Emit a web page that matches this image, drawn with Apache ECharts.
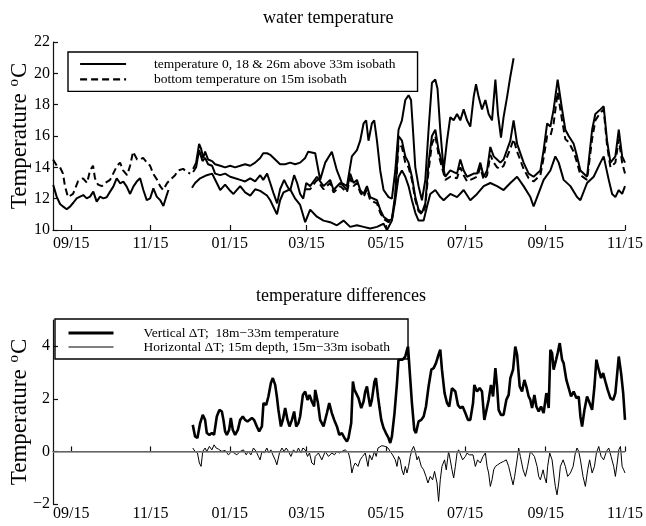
<!DOCTYPE html>
<html><head><meta charset="utf-8">
<script src="https://cdn.jsdelivr.net/npm/echarts@6/dist/echarts.min.js"></script>
<style>html,body{margin:0;padding:0;background:#fff}#c{width:646px;height:526px}</style>
</head><body><div id="c"></div>
<script>
// x values are days since 1 Sep (first year); 440 = 15 Nov of the following year
const tickDays = [14, 75, 136, 195, 256, 317, 379, 440];
const tickLabels = ['09/15','11/15','01/15','03/15','05/15','07/15','09/15','11/15'];
const tempTicks = [10, 12, 14, 16, 18, 20, 22];
const diffTicks = [-2, 0, 2, 4];

// warmest sensor (26m above bottom, 33m isobath)
const temp26 = [[107.8,13.9],[110.1,14.3],[112.4,15.5],[113.9,15.2],[115.5,14.6],[117.0,15.0],[119.3,14.5],[122.4,14.4],[124.7,14.2],[128.6,14.1],[132.4,14.0],[136.3,14.1],[140.1,14.0],[144.0,14.1],[147.8,14.2],[151.7,14.1],[155.5,14.3],[159.4,14.6],[161.7,14.9],[164.7,14.9],[167.1,14.8],[170.9,14.5],[174.7,14.2],[178.6,14.2],[182.4,14.3],[186.3,14.2],[190.1,14.3],[194.0,14.6],[196.3,15.0],[197.8,15.0],[201.7,14.9],[205.5,13.2],[209.4,14.3],[214.5,15.0],[218.4,13.8],[222.2,13.0],[226.1,12.8],[229.9,14.7],[233.8,15.1],[236.3,15.7],[238.9,16.8],[240.9,17.0],[242.7,15.7],[245.3,16.8],[247.1,17.0],[249.2,15.7],[251.7,13.8],[254.3,12.55],[258.1,12.1],[260.7,12.0],[263.3,13.8],[265.8,16.4],[268.4,17.0],[271.0,18.3],[273.5,18.6],[275.4,18.3],[276.9,16.4],[278.7,14.0],[281.2,12.8],[283.8,11.9],[286.4,13.2],[288.9,16.4],[291.5,19.4],[294.1,19.6],[295.8,19.0],[297.9,16.4],[300.5,13.8],[303.1,15.7],[305.6,17.2],[308.2,17.0],[310.8,17.4],[313.3,17.0],[315.9,17.7],[318.5,17.0],[321.0,16.6],[323.6,18.5],[325.4,19.3],[327.4,18.5],[330.0,17.7],[332.6,18.3],[335.1,17.4],[337.7,17.0],[340.3,19.6],[342.3,17.4],[344.6,15.9],[346.6,17.2],[349.3,18.5],[351.8,19.8],[354.3,20.96]];

// middle sensor (18m above bottom)
const temp18 = [[107.8,13.7],[110.1,14.0],[112.4,15.1],[115.0,14.4],[117.0,14.6],[119.3,14.2],[122.4,14.1],[124.7,13.6],[128.6,13.5],[132.4,13.6],[136.3,13.4],[140.1,13.3],[144.0,13.2],[147.8,13.1],[151.7,13.3],[155.5,13.1],[159.4,13.5],[161.7,13.2],[164.7,13.6],[167.1,13.0],[169.4,12.4],[172.4,11.7],[174.7,12.6],[177.8,13.2],[180.1,12.8],[182.4,12.5],[185.5,13.5],[187.8,13.0],[190.1,12.3],[192.5,12.0],[194.8,13.0],[197.8,12.8],[203.0,13.4],[208.1,12.8],[213.2,13.2],[215.8,12.55],[220.9,13.0],[223.5,12.8],[226.1,12.55],[228.6,13.6],[231.2,13.0],[233.8,13.2],[236.3,12.55],[238.9,12.3],[241.5,12.8],[244.0,12.1],[249.2,11.9],[251.7,11.3],[254.3,10.85],[258.1,10.6],[260.7,10.7],[263.3,12.3],[265.8,16.0],[268.4,15.7],[271.0,14.7],[273.5,14.3],[276.1,13.4],[278.7,12.1],[281.2,11.3],[283.8,11.1],[286.4,11.7],[288.9,14.3],[291.5,16.0],[294.1,16.4],[296.6,15.1],[299.2,14.3],[301.8,13.4],[305.6,13.8],[310.8,13.6],[313.3,14.5],[315.9,13.8],[318.5,13.4],[323.6,13.6],[326.2,13.6],[328.7,14.3],[331.3,13.4],[333.9,13.8],[336.4,15.3],[339.0,14.7],[341.6,14.5],[344.1,14.3],[346.6,14.5],[351.8,15.7],[354.3,17.0],[357.0,15.5],[362.0,14.3],[365.9,13.6],[369.7,13.4],[374.9,13.8],[377.4,15.1],[380.1,16.8],[382.6,16.6],[385.1,17.7],[388.2,19.6],[391.6,17.7],[394.1,16.4],[396.7,16.0],[400.5,15.5],[403.1,14.7],[405.7,13.8],[410.8,13.4],[414.7,16.4],[417.2,17.4],[421.1,17.7],[423.6,17.9],[426.2,15.7],[428.8,14.3],[432.6,14.7],[435.2,16.4],[437.8,14.7],[440,14.3]];

// coolest sensor (0m above bottom); first stretch Sep-Nov, then Dec-Nov
const temp0 = [[0.2,12.87],[2.8,12.13],[5.4,11.66],[7.9,11.49],[10.5,11.32],[13.1,11.49],[15.6,11.74],[18.2,12.02],[20.8,12.13],[23.3,12.23],[25.9,12.02],[28.5,12.13],[31.0,12.45],[33.6,11.81],[36.2,12.13],[38.7,12.02],[41.3,12.09],[43.9,12.45],[46.4,12.77],[49.0,13.3],[51.6,12.98],[54.1,13.09],[56.7,12.77],[59.3,12.3],[61.8,12.77],[64.4,13.09],[67.0,13.3],[69.5,12.55],[72.1,11.91],[74.7,12.02],[77.2,12.66],[79.8,12.13],[82.4,11.91],[84.9,11.53],[87.5,12.23],[88.8,12.55],[97,null],
  [106.9,12.7],[109.3,13.0],[113.2,13.3],[118.3,13.5],[122.4,13.6],[126.0,13.0],[128.6,12.55],[132.4,12.9],[136.3,12.5],[138.8,12.3],[144.0,12.8],[147.8,12.4],[151.7,12.2],[155.5,12.6],[159.4,12.5],[164.6,12.2],[167.1,11.9],[172.3,11.0],[174.7,11.9],[177.3,12.4],[182.4,12.6],[186.3,12.0],[190.1,11.6],[194.0,10.5],[197.8,11.3],[203.0,10.85],[208.1,10.6],[213.2,10.5],[218.4,10.3],[223.5,10.6],[228.6,10.2],[233.8,10.3],[238.9,10.2],[244.0,10.1],[249.2,10.2],[254.3,10.4],[256.9,10.0],[260.7,10.6],[263.3,11.9],[265.8,13.4],[268.4,13.8],[271.0,13.4],[273.5,12.8],[276.1,11.9],[278.7,11.1],[281.2,10.6],[285.1,10.6],[287.7,11.5],[290.2,12.3],[294.1,12.55],[297.9,12.1],[300.5,11.9],[305.6,12.3],[310.8,12.1],[315.9,12.55],[321.0,11.9],[326.2,12.3],[331.3,12.8],[336.4,13.0],[341.6,12.8],[346.6,12.55],[351.8,13.0],[357.0,13.4],[362.0,12.8],[367.2,12.1],[369.7,11.5],[372.4,12.1],[377.4,13.2],[382.6,13.8],[386.4,14.7],[389.0,14.3],[392.8,13.2],[398.0,12.8],[403.1,12.1],[405.7,11.9],[410.8,13.0],[415.9,13.4],[421.1,14.3],[423.6,14.7],[427.5,13.2],[430.1,12.3],[432.6,12.1],[435.2,12.55],[437.8,12.3],[440,12.8]];

// bottom temperature on 15m isobath (dashed)
const temp15 = [[0,14.5],[3,14.1],[5.4,14.0],[7.7,13.6],[9.2,12.8],[11.5,12.1],[15.4,12.3],[19.2,13.1],[23.1,13.3],[26.2,13.0],[28.5,13.8],[30.8,14.1],[32.3,13.3],[34.6,12.9],[37.7,12.8],[40,13.0],[43.9,13.2],[49.3,14.1],[51.6,14.3],[53.9,13.8],[57,13.5],[59.3,14.1],[61.6,15.0],[64.7,14.5],[67,14.5],[69.3,14.6],[72.4,14.3],[74.7,14.1],[77,13.6],[80.1,13.2],[82.4,12.8],[84.7,12.55],[87.8,13.0],[90.1,13.2],[93.9,13.5],[96.2,13.8],[100.1,13.9],[103.2,13.7],[105.5,13.6],[150,null],
  [194.0,12.6],[197.8,12.6],[203.0,13.2],[208.1,12.6],[213.2,13.0],[215.8,12.4],[220.9,12.8],[223.5,12.6],[226.1,12.4],[228.6,13.3],[231.2,12.8],[233.8,13.0],[236.3,12.4],[238.9,12.1],[241.5,12.6],[244.0,11.9],[249.2,11.7],[251.7,11.1],[254.3,10.7],[258.1,10.5],[260.7,10.7],[263.3,12.0],[265.8,15.5],[268.4,15.3],[271.0,14.3],[273.5,14.0],[276.1,13.2],[278.7,11.9],[281.2,11.2],[283.8,11.0],[286.4,11.5],[288.9,13.8],[291.5,15.5],[294.1,16.0],[296.6,14.8],[299.2,14.0],[301.8,13.2],[305.6,13.4],[310.8,13.3],[313.3,14.0],[315.9,13.5],[318.5,13.1],[323.6,13.3],[326.2,13.4],[328.7,14.0],[331.3,13.2],[333.9,13.5],[336.4,14.8],[339.0,14.3],[341.6,14.0],[344.1,13.9],[346.6,14.1],[351.8,15.2],[354.3,15.8],[357.0,15.0],[362.0,13.9],[365.9,13.3],[369.7,13.1],[374.9,13.5],[377.4,14.6],[380.1,16.0],[382.6,16.0],[385.1,16.8],[388.2,18.8],[391.6,17.0],[394.1,15.8],[396.7,15.6],[400.5,15.0],[403.1,14.3],[405.7,13.5],[410.8,13.2],[414.7,15.8],[417.2,17.0],[421.1,17.5],[423.6,17.7],[426.2,15.4],[428.8,14.0],[432.6,14.3],[435.2,15.8],[437.8,14.3],[440,13.6]];

// vertical dT: 18m - 33m temperature
const vertDT = [[107.5,1.01],[109.3,0.57],[111.1,0.51],[113.2,1.08],[115.2,1.39],[117.0,1.2],[118.3,0.7],[120.3,0.63],[122.2,0.7],[123.9,0.63],[126.0,1.33],[128.0,1.58],[129.9,1.52],[131.1,1.2],[132.4,0.76],[133.7,0.63],[135.5,0.82],[136.8,1.27],[138.3,0.82],[140.1,0.63],[142.2,0.82],[144.0,1.2],[146.0,1.33],[147.8,1.2],[149.6,1.14],[151.1,1.08],[153.0,1.27],[154.7,1.2],[156.8,0.95],[158.6,0.76],[160.7,0.95],[161.9,1.84],[164.0,1.77],[165.7,2.09],[167.6,2.6],[169.1,2.79],[170.9,2.53],[172.2,2.09],[173.4,1.58],[175.3,0.95],[176.8,1.2],[178.6,1.65],[180.4,1.2],[181.9,0.95],[183.8,1.2],[185.5,1.52],[187.1,0.95],[188.8,1.08],[190.1,1.33],[192.2,2.15],[194.0,2.28],[195.8,1.96],[197.3,2.15],[199.1,1.9],[200.9,1.71],
  [201.7,2.34],[203.8,1.84],[205.5,1.2],[208.1,0.95],[210.7,1.46],[212.5,1.84],[214.5,1.46],[216.3,1.2],[218.4,0.95],[220.2,0.63],[222.2,0.7],[224.2,0.51],[226.1,0.38],[227.3,0.51],[229.4,1.08],[230.7,2.66],[231.9,2.34],[233.8,2.15],[235.0,2.03],[237.1,1.65],[238.9,1.9],[240.2,2.28],[241.5,2.47],[242.7,2.09],[244.0,1.71],[245.3,1.96],[247.3,2.66],[248.4,2.79],[250.0,2.09],[251.2,1.65],[252.5,1.2],[254.3,0.89],[256.1,0.7],[258.1,0.51],[259.4,0.32],[260.7,0.57],[262.7,1.46],[264.6,2.6],[265.8,3.49],[267.1,3.55],[268.9,3.49],[271.0,3.61],[272.3,3.87],[273.1,3.99],[274.3,3.11],[276.1,1.84],[277.9,0.82],[279.2,0.7],[281.2,1.14],[283.3,1.2],[285.1,1.33],[286.9,1.71],[288.9,2.47],[291.0,3.11],[292.8,3.17],[294.6,3.36],[296.1,3.61],[297.9,3.87],[299.2,3.11],[301.2,2.22],[303.1,1.84],[304.8,1.71],[306.9,2.41],[308.2,2.47],[309.5,2.28],[311.5,1.77],[313.3,1.65],[315.1,1.71],[317.2,1.46],[319.2,1.2],
  [321.0,1.2],[323.1,1.84],[324.1,2.53],[326.2,2.28],[328.2,2.41],[330.0,2.28],[331.8,1.2],[333.3,1.14],[335.1,1.96],[336.9,2.53],[338.5,2.09],[340.3,3.17],[341.6,2.47],[342.8,1.58],[344.6,1.39],[346.6,1.39],[348.7,1.96],[350.5,2.15],[351.8,2.79],[353.9,3.11],[355.6,3.99],[357.0,3.68],[359.0,2.47],[360.8,2.28],[362.6,2.72],[364.1,2.47],[365.9,2.09],[367.2,1.96],[368.5,1.65],[370.3,2.15],[371.8,1.71],[373.6,1.52],[375.4,1.71],[377.4,1.46],[379.5,2.22],[381.3,1.65],[382.6,3.87],[383.9,3.74],[385.1,3.11],[387.0,3.49],[388.2,3.74],[389.8,4.12],[391.6,3.49],[392.8,3.36],[394.9,2.72],[396.7,2.41],[398.5,2.09],[400.5,2.28],[402.6,2.03],[404.4,2.09],[405.7,1.33],[407.0,0.95],[408.8,1.58],[410.8,2.09],[412.8,1.84],[414.7,1.58],[416.5,2.47],[418.0,3.49],[419.8,3.11],[421.6,2.79],[423.2,2.98],[424.9,2.66],[426.7,2.34],[428.8,2.03],[430.9,1.96],[432.6,2.22],[434.0,2.28],[435.2,3.61],[437.0,2.98],[438.6,2.22],[440,1.2]];

// horizontal dT: 15m depth, 15m - 33m isobath
const horizDT = [[107.5,0.13],[109.3,0],[111.1,-0.06],[112.6,-0.44],[113.9,-0.57],[115.2,0],[117.0,0.13],[118.3,0],[120.3,0.19],[122.2,0.06],[123.9,0.25],[125.5,0.13],[127.2,0.09],[129.9,0],[132.4,0.04],[134.9,-0.13],[137.6,0],[139.3,-0.06],[141.4,-0.13],[144.0,0],[146.5,0.06],[148.6,-0.13],[150.3,0],[152.2,-0.13],[154.2,0.13],[156.3,0],[158.0,-0.19],[159.3,-0.32],[160.7,0],[162.4,-0.06],[164.5,0.13],[166.0,-0.06],[167.6,0.06],[169.1,-0.13],[170.9,-0.32],[172.2,-0.51],[174.2,-0.06],[176.1,0.13],[177.8,0],[179.4,0.13],[181.1,0],[183.0,-0.19],[185.0,0.06],[187.1,-0.06],[188.8,0.13],[190.7,-0.06],[192.2,0.13],[194.0,0.06],[195.8,-0.19],[197.3,-0.06],[199.1,-0.44],[200.9,-0.51],
  [201.7,-0.19],[204.2,-0.06],[206.8,-0.32],[209.4,0],[211.9,-0.19],[214.5,-0.06],[216.5,-0.13],[218.4,0],[220.2,-0.06],[222.2,0],[224.8,0.06],[227.3,-0.06],[228.6,-0.32],[229.9,-0.82],[231.2,-0.57],[232.5,-0.44],[234.6,-0.57],[236.3,-0.32],[238.1,-0.19],[240.2,-0.06],[242.3,-0.57],[243.5,-0.13],[245.3,-0.32],[247.3,0],[248.6,-0.19],[250.0,0.13],[251.0,0.19],[253.0,0.22],[255.6,0.19],[257.7,0.13],[259.4,0],[261.2,-0.13],[263.3,-0.32],[264.6,-0.57],[265.8,-0.19],[267.1,-0.32],[268.4,-0.7],[269.7,-0.89],[271.0,-0.57],[272.3,-0.82],[273.5,-0.57],[274.8,-0.19],[276.1,0.06],[277.4,0.19],[278.7,0],[280.0,-0.32],[281.2,-0.19],[283.3,-0.57],[285.1,-0.7],[286.9,-0.95],[288.4,-1.2],[290.2,-0.95],[292.0,-1.08],[293.5,-0.76],[295.4,-1.2],[296.6,-1.9],[297.9,-1.08],[299.2,-0.57],[301.2,-0.32],[302.5,-0.7],[304.3,0],[305.6,-0.32],[306.9,-0.7],[308.2,-1.01],[309.5,-0.57],[310.8,-0.06],[312.0,0.06],[313.3,0.13],[315.1,-0.32],[317.2,-0.19],[318.5,-0.06],[320.2,-0.13],
  [321.0,-0.06],[323.1,-0.13],[324.9,-0.57],[326.6,-0.32],[328.7,-0.44],[330.8,-0.19],[332.6,-0.06],[333.9,-0.57],[335.1,-0.82],[336.4,-1.33],[337.7,-1.08],[339.0,-0.7],[340.3,-0.57],[342.0,-0.51],[344.1,-0.44],[346.6,-0.38],[348.7,-0.32],[350.5,-0.57],[352.3,-0.95],[353.9,-1.27],[355.1,-0.95],[357.0,-0.32],[358.2,0.13],[359.5,-0.19],[361.6,-0.7],[363.4,-0.95],[365.1,-0.57],[367.2,0],[368.5,0.06],[370.3,-0.19],[372.4,-0.57],[373.6,-0.95],[374.9,-1.08],[377.0,-0.7],[378.0,-0.95],[379.5,-1.2],[380.5,-0.57],[382.1,-0.06],[383.9,-0.32],[385.1,-0.82],[386.4,-1.33],[387.7,-1.65],[389.0,-1.2],[390.3,-0.57],[392.4,-0.32],[394.1,-0.57],[395.9,-0.95],[398.0,-0.82],[400.1,-0.57],[401.8,-0.06],[403.1,0.13],[404.4,0],[405.7,-0.32],[407.7,-0.95],[409.5,-1.33],[411.3,-0.7],[412.8,-0.32],[414.7,-0.82],[416.5,-0.57],[418.0,-0.06],[419.8,0.19],[421.6,-0.19],[423.6,-0.32],[425.7,0],[427.5,0.13],[429.3,-0.19],[431.3,-0.57],[432.6,-0.95],[434.0,-0.44],[435.2,0.06],[436.5,0.19],[437.8,-0.57],[439.0,-0.7],[440,-0.82]];

const names = {
  solid: 'temperature 0, 18 & 26m above 33m isobath',
  dashed: 'bottom temperature on 15m isobath',
  vert: 'Vertical \u0394T;  18m\u221233m temperature',
  horiz: 'Horizontal \u0394T; 15m depth, 15m\u221233m isobath'
};

const FONT = '"Liberation Serif", "Times New Roman", serif';
const chart = echarts.init(document.getElementById('c'), null, {renderer: 'canvas'});

function xAxis(gridIndex, margin) {
  return {
    type: 'value', gridIndex, min: 0, max: 440,
    axisLine: {show: true, lineStyle: {color: '#111', width: 1.2}},
    axisTick: {show: true, inside: true, length: 5, customValues: tickDays, lineStyle: {color: '#111', width: 1.2}},
    axisLabel: {customValues: tickDays, margin, color: '#000', fontFamily: FONT, fontSize: 16,
      showMinLabel: true, showMaxLabel: true, hideOverlap: false,
      formatter: v => { const i = tickDays.indexOf(Math.round(v)); return i >= 0 ? tickLabels[i] : ''; }},
    splitLine: {show: false}
  };
}
function yAxis(gridIndex, min, max, ticks) {
  return {
    type: 'value', gridIndex, min, max,
    name: '{t|Temperature }{s|o}{t|C}', nameLocation: 'middle', nameRotate: 90, nameGap: 20,
    nameMoveOverlap: false,
    nameTextStyle: {rich: {
      t: {fontFamily: FONT, fontSize: 23, color: '#000'},
      s: {fontFamily: FONT, fontSize: 15, color: '#000', padding: [0, 1, 11, 1]}
    }},
    axisLine: {show: true, lineStyle: {color: '#111', width: 1.2}},
    axisTick: {show: true, inside: true, length: 5, customValues: ticks, lineStyle: {color: '#111', width: 1.2}},
    axisLabel: {customValues: ticks, margin: 3, color: '#000', fontFamily: FONT, fontSize: 16,
      showMinLabel: true, showMaxLabel: true, hideOverlap: false,
      formatter: v => v < 0 ? '\u2212' + Math.abs(v) : String(v)},
    splitLine: {show: false}
  };
}
const solid = {color: '#000', width: 2};
const legendText = {fontFamily: FONT, fontSize: 13.5, lineHeight: 12, color: '#000'};
const option = {
  animation: false,
  backgroundColor: '#fff',
  color: ['#000'],
  title: [
    {text: 'water temperature', left: 263, top: 9, padding: 0,
      textStyle: {fontFamily: FONT, fontSize: 18, fontWeight: 'normal', color: '#000'}},
    {text: 'temperature differences', left: 256, top: 287, padding: 0,
      textStyle: {fontFamily: FONT, fontSize: 18, fontWeight: 'normal', color: '#000'}}
  ],
  grid: [
    {left: 53, right: 21, top: 42, bottom: 296, containLabel: false, outerBoundsMode: 'none'},
    {left: 53, right: 21, top: 320, bottom: 22, containLabel: false, outerBoundsMode: 'none'}
  ],
  legend: [
    {data: [
        {name: names.solid, lineStyle: {color: '#000', width: 2.2, type: 'solid'}},
        {name: names.dashed, lineStyle: {color: '#000', width: 2.2, type: [7, 4]}}
      ],
      orient: 'vertical', left: 68, top: 52,
      itemWidth: 46, itemHeight: 12, itemGap: 1.4, padding: [5, 22, 5, 11],
      itemStyle: {opacity: 0, borderWidth: 0},
      borderColor: '#000', borderWidth: 1.4, selectedMode: false,
      textStyle: Object.assign({padding: [0, 0, 0, 23]}, legendText)},
    {data: [
        {name: names.vert, lineStyle: {color: '#000', width: 3, type: 'solid'}},
        {name: names.horiz, lineStyle: {color: '#000', width: 1, type: 'solid'}}
      ],
      orient: 'vertical', left: 55, top: 319,
      itemWidth: 45, itemHeight: 12, itemGap: 0, padding: [7, 18, 5, 12],
      itemStyle: {opacity: 0, borderWidth: 0},
      borderColor: '#000', borderWidth: 1.4, selectedMode: false,
      textStyle: Object.assign({padding: [0, 0, 0, 25]}, legendText)}
  ],
  xAxis: [xAxis(0, 6), xAxis(1, 2)],
  yAxis: [yAxis(0, 10, 22, tempTicks), yAxis(1, -2, 5, diffTicks)],
  series: [
    {name: names.solid, type: 'line', xAxisIndex: 0, yAxisIndex: 0, data: temp0, symbol: 'none', itemStyle: {color: '#000'}, lineStyle: solid, z: 3},
    {name: names.solid, type: 'line', xAxisIndex: 0, yAxisIndex: 0, data: temp18, symbol: 'none', itemStyle: {color: '#000'}, lineStyle: solid, z: 3},
    {name: names.solid, type: 'line', xAxisIndex: 0, yAxisIndex: 0, data: temp26, symbol: 'none', itemStyle: {color: '#000'}, lineStyle: solid, z: 3},
    {name: names.dashed, type: 'line', xAxisIndex: 0, yAxisIndex: 0, data: temp15, symbol: 'none', itemStyle: {color: '#000'},
      lineStyle: {color: '#000', width: 2, type: [7, 4]}, z: 4},
    {name: names.vert, type: 'line', xAxisIndex: 1, yAxisIndex: 1, data: vertDT, symbol: 'none', itemStyle: {color: '#000'},
      lineStyle: {color: '#000', width: 2.6}, z: 3},
    {name: names.horiz, type: 'line', xAxisIndex: 1, yAxisIndex: 1, data: horizDT, symbol: 'none', itemStyle: {color: '#000'},
      lineStyle: {color: '#000', width: 1}, z: 4,
      markLine: {silent: true, symbol: 'none', label: {show: false},
        lineStyle: {color: '#808080', width: 1.5, type: 'solid'}, data: [{yAxis: 0}]}}
  ]
};
chart.setOption(option);
</script>
</body></html>
